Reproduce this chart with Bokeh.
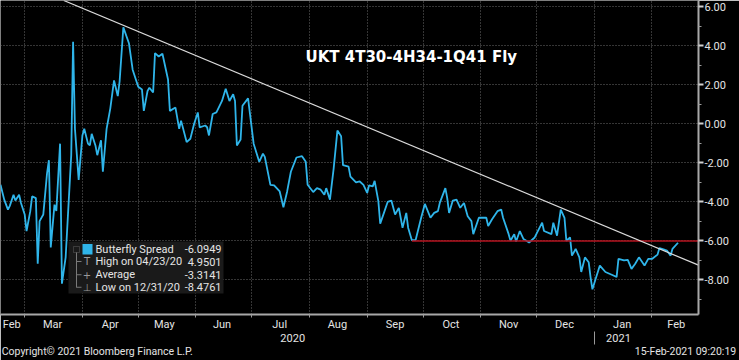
import pandas as pd
from bokeh.plotting import figure
from bokeh.models import (Range1d, FixedTicker, DatetimeAxis, NumeralTickFormatter,
                          Label, BoxAnnotation, ColumnDataSource)
from bokeh.embed import file_html
from bokeh.resources import INLINE

# ---------------- data ----------------
dates = [
    "2020-02-17", "2020-02-19", "2020-02-21", "2020-02-22", "2020-02-24", "2020-02-25", "2020-02-27", "2020-02-28",
    "2020-03-01", "2020-03-02", "2020-03-04", "2020-03-05", "2020-03-07", "2020-03-08", "2020-03-09", "2020-03-11",
    "2020-03-13", "2020-03-14", "2020-03-15", "2020-03-17", "2020-03-18", "2020-03-20", "2020-03-21", "2020-03-23",
    "2020-03-26", "2020-03-27", "2020-03-28", "2020-03-30", "2020-04-01", "2020-04-02", "2020-04-04", "2020-04-05",
    "2020-04-06", "2020-04-08", "2020-04-09", "2020-04-11", "2020-04-12", "2020-04-14", "2020-04-16", "2020-04-18",
    "2020-04-20", "2020-04-21", "2020-04-23", "2020-04-26", "2020-04-28", "2020-05-01", "2020-05-03", "2020-05-04",
    "2020-05-06", "2020-05-07", "2020-05-09", "2020-05-10", "2020-05-12", "2020-05-14", "2020-05-17", "2020-05-18",
    "2020-05-21", "2020-05-23", "2020-05-24", "2020-05-27", "2020-05-29", "2020-05-31", "2020-06-02", "2020-06-03",
    "2020-06-06", "2020-06-07", "2020-06-08", "2020-06-10", "2020-06-12", "2020-06-15", "2020-06-17", "2020-06-19",
    "2020-06-21", "2020-06-22", "2020-06-23", "2020-06-25", "2020-06-26", "2020-06-29", "2020-07-02", "2020-07-05",
    "2020-07-07", "2020-07-08", "2020-07-11", "2020-07-13", "2020-07-16", "2020-07-18", "2020-07-20", "2020-07-22",
    "2020-07-25", "2020-07-28", "2020-07-30", "2020-07-31", "2020-08-03", "2020-08-05", "2020-08-07", "2020-08-09",
    "2020-08-10", "2020-08-12", "2020-08-14", "2020-08-16", "2020-08-18", "2020-08-19", "2020-08-22", "2020-08-23",
    "2020-08-26", "2020-08-28", "2020-08-30", "2020-09-01", "2020-09-02", "2020-09-04", "2020-09-05", "2020-09-07",
    "2020-09-08", "2020-09-10", "2020-09-12", "2020-09-14", "2020-09-16", "2020-09-18", "2020-09-20", "2020-09-22",
    "2020-09-23", "2020-09-25", "2020-09-27", "2020-09-30", "2020-10-02", "2020-10-05", "2020-10-07", "2020-10-09",
    "2020-10-10", "2020-10-13", "2020-10-14", "2020-10-15", "2020-10-17", "2020-10-19", "2020-10-21", "2020-10-23",
    "2020-10-25", "2020-10-27", "2020-10-28", "2020-10-31", "2020-11-04", "2020-11-05", "2020-11-07", "2020-11-10",
    "2020-11-12", "2020-11-13", "2020-11-16", "2020-11-17", "2020-11-19", "2020-11-20", "2020-11-22", "2020-11-24",
    "2020-11-27", "2020-11-30", "2020-12-04", "2020-12-05", "2020-12-09", "2020-12-10", "2020-12-12", "2020-12-14",
    "2020-12-16", "2020-12-17", "2020-12-19", "2020-12-20", "2020-12-22", "2020-12-24", "2020-12-25", "2020-12-27",
    "2020-12-29", "2020-12-30", "2020-12-31", "2021-01-04", "2021-01-07", "2021-01-11", "2021-01-13", "2021-01-14",
    "2021-01-17", "2021-01-19", "2021-01-21", "2021-01-23", "2021-01-25", "2021-01-28", "2021-01-30", "2021-02-01",
    "2021-02-04", "2021-02-05", "2021-02-08", "2021-02-09", "2021-02-11", "2021-02-12", "2021-02-15",
]
spread = [
    -3.12, -3.88, -4.39, -4.20, -3.63, -3.93, -3.63, -4.05,
    -4.64, -5.49, -4.47, -3.71, -3.80, -7.17, -4.98, -4.64,
    -2.53, -1.86, -6.33, -4.14, -4.46, -1.01, -8.19, -6.84,
    -1.60, 4.22, -0.25, -2.87, -0.59, -0.25, -1.01, -1.10,
    -0.51, -1.10, -1.60, -0.84, -2.45, -0.25, 0.80, 2.23,
    1.43, 2.19, 4.95, 4.14, 2.78, 1.91, 1.77, 0.67,
    1.69, 1.86, 1.61, 3.63, 3.46, 3.60, 2.28, 0.67,
    0.84, -0.25, 0.17, -0.93, -0.76, 0.00, 0.59, -0.17,
    -0.08, -0.17, -0.59, 0.51, 0.59, 1.18, 1.81, 1.18,
    1.52, 1.18, -1.10, -0.80, 0.93, 1.31, -1.01, -1.94,
    -1.52, -1.69, -3.12, -3.15, -3.46, -4.27, -3.46, -2.45,
    -1.72, -1.65, -1.94, -3.12, -3.49, -3.29, -3.37, -3.63,
    -3.29, -3.88, -2.28, -0.34, -0.63, -2.11, -2.19, -2.70,
    -2.99, -2.95, -3.12, -3.54, -3.15, -3.20, -2.92, -3.96,
    -5.11, -4.56, -4.00, -3.93, -4.64, -4.30, -5.32, -4.56,
    -5.32, -5.96, -5.96, -4.81, -4.10, -4.81, -4.56, -4.47,
    -4.05, -3.29, -3.80, -4.56, -3.93, -3.88, -4.30, -4.05,
    -4.73, -4.98, -5.65, -4.81, -4.81, -5.23, -4.90, -4.47,
    -4.39, -4.81, -5.65, -5.99, -5.65, -6.03, -5.49, -5.90,
    -6.08, -5.82, -5.06, -5.49, -5.65, -5.06, -5.73, -4.39,
    -4.81, -5.99, -5.82, -6.75, -6.41, -6.84, -7.59, -6.84,
    -7.09, -7.85, -8.48, -7.26, -7.59, -7.76, -7.85, -6.92,
    -7.00, -6.97, -7.43, -7.17, -6.84, -7.26, -6.92, -6.92,
    -6.70, -6.36, -6.46, -6.49, -6.75, -6.41, -6.09,
]

trend_dates = ["2020-03-22", "2021-02-26"]
trend_values = [6.33, -7.24]
support_dates = ["2020-09-25", "2021-02-26"]
support_values = [-6.00, -6.00]

month_starts = ["2020-03-01", "2020-04-01", "2020-05-01", "2020-06-01", "2020-07-01", "2020-08-01",
                "2020-09-01", "2020-10-01", "2020-11-01", "2020-12-01", "2021-01-01", "2021-02-01"]
month_label_dates = ["2020-02-23", "2020-03-16", "2020-04-16", "2020-05-15", "2020-06-15", "2020-07-16",
                     "2020-08-16", "2020-09-16", "2020-10-16", "2020-11-16", "2020-12-16", "2021-01-16", "2021-02-14"]
month_labels = ["Feb", "Mar", "Apr", "May", "Jun", "Jul", "Aug", "Sep", "Oct", "Nov", "Dec", "Jan", "Feb"]
year_label_dates = ["2020-07-23", "2021-01-14"]
year_labels = ["2020", "2021"]
year_break = ["2021-01-01"]

y_ticks = [-8, -6, -4, -2, 0, 2, 4, 6]
y_minor = [-9, -7, -5, -3, -1, 1, 3, 5]

title_text = "UKT 4T30-4H34-1Q41 Fly"
legend_names = ["Butterfly Spread", "High on 04/23/20", "Average", "Low on 12/31/20"]
legend_values = ["-6.0949", "4.9501", "-3.3141", "-8.4761"]
legend_icons = ["", "T", "+", "\u22a5"]
footer_dates = ["2020-04-09", "2021-02-19"]
footer_texts = ["Copyright\u00a9 2021 Bloomberg Finance L.P.", "15-Feb-2021 09:20:19"]


def ms(s):
    return float(pd.Timestamp(s).value // 10**6)


FONT = "Roboto"
LINE_C = "#2fb5ea"
TXT_C = "#e4e4e4"
GREY = "#9a9a9a"

p = figure(width=739, height=360, x_axis_type="datetime", y_axis_location="right",
           x_range=Range1d(ms("2020-02-17"), ms("2021-02-26")),
           y_range=Range1d(-9.77, 6.33),
           output_backend="svg", toolbar_location=None,
           background_fill_color="black", border_fill_color="black",
           outline_line_color=None,
           min_border_left=0, min_border_top=0, min_border_right=41, min_border_bottom=42)

# grids
p.xgrid.ticker = FixedTicker(ticks=[ms(d) for d in month_starts])
p.ygrid.ticker = FixedTicker(ticks=y_ticks)
for g in (p.xgrid[0], p.ygrid[0]):
    g.grid_line_color = "#6a6a6a"
    g.grid_line_dash = "1 2"
    g.grid_line_width = 1


def style_axis(ax, size="11px"):
    ax.axis_label_standoff = 0
    ax.major_label_text_color = TXT_C
    ax.major_label_text_font = FONT
    ax.major_label_text_font_size = size
    ax.major_label_standoff = 0
    ax.major_tick_out = 0
    ax.major_tick_in = 0
    ax.minor_tick_out = 0
    ax.minor_tick_in = 0


# month axis
xa = p.xaxis[0]
xa.ticker = FixedTicker(ticks=[ms(d) for d in month_label_dates],
                        minor_ticks=[ms(d) for d in month_starts])
xa.major_label_overrides = {ms(d): t for d, t in zip(month_label_dates, month_labels)}
style_axis(xa)
xa.minor_tick_out = 3
xa.minor_tick_line_color = GREY
xa.axis_line_color = "#a8a8a8"
xa.axis_line_width = 2

# year axis
ya2 = DatetimeAxis(ticker=FixedTicker(ticks=[ms(d) for d in year_label_dates]))
ya2.major_label_overrides = {ms(d): t for d, t in zip(year_label_dates, year_labels)}
style_axis(ya2)
ya2.axis_line_color = None
p.add_layout(ya2, "below")

# footer axis (copyright / timestamp); its minor tick is the year separator
fa = DatetimeAxis(ticker=FixedTicker(ticks=[ms(d) for d in footer_dates],
                                     minor_ticks=[ms(d) for d in year_break]))
fa.major_label_overrides = {ms(d): t for d, t in zip(footer_dates, footer_texts)}
style_axis(fa, "10.5px")
fa.axis_line_color = None
fa.minor_tick_in = 13
fa.minor_tick_line_color = GREY
p.add_layout(fa, "below")

# y axis
yax = p.yaxis[0]
yax.ticker = FixedTicker(ticks=y_ticks, minor_ticks=y_minor)
yax.formatter = NumeralTickFormatter(format="0.00")
style_axis(yax)
yax.axis_line_color = "#a8a8a8"
yax.axis_line_width = 2
yax.major_tick_out = 5
yax.major_tick_line_width = 2
yax.major_tick_line_color = "#d0d0d0"
yax.minor_tick_out = 3
yax.minor_tick_line_color = GREY
yax.major_label_standoff = 1

# series
src = ColumnDataSource(dict(x=pd.to_datetime(dates), y=spread))
p.line("x", "y", source=src, line_color=LINE_C, line_width=1.8)
p.line(pd.to_datetime(support_dates), support_values, line_color="#b5121e", line_width=1.6)
p.line(pd.to_datetime(trend_dates), trend_values, line_color="#dcdcdc", line_width=1.2)

# title
p.add_layout(Label(x=305, y=258, x_units="screen", y_units="screen", text=title_text,
                   text_font="DejaVu Sans", text_font_style="bold", text_font_size="15px",
                   text_color="white", text_baseline="middle"))


# legend box
def sbox(**kw):
    return BoxAnnotation(left_units="screen", right_units="screen",
                         top_units="screen", bottom_units="screen", level="overlay", **kw)


p.add_layout(sbox(left=68, right=223, bottom=21, top=73,
                  fill_color="#1a1a1a", fill_alpha=1.0, line_color=None))
rows_y = [65.3, 53.0, 39.7, 27.3]
p.add_layout(sbox(left=82, right=92, bottom=60, top=70.5,
                  fill_color=LINE_C, fill_alpha=1.0, line_color=None))
p.add_layout(sbox(left=73, right=79, bottom=62, top=68,
                  fill_alpha=0, line_color="#8a8a8a", line_width=1))
p.add_layout(sbox(left=75.5, right=76.5, bottom=27, top=62,
                  fill_color="#7a7a7a", fill_alpha=1.0, line_color=None))
for yy in rows_y[1:]:
    p.add_layout(sbox(left=76, right=81, bottom=yy - 0.5, top=yy + 0.5,
                      fill_color="#7a7a7a", fill_alpha=1.0, line_color=None))
for name, val, icon, yy in zip(legend_names, legend_values, legend_icons, rows_y):
    p.add_layout(Label(x=95, y=yy, x_units="screen", y_units="screen", text=name,
                       text_font=FONT, text_font_size="11px", text_color=TXT_C,
                       text_baseline="middle", level="overlay"))
    p.add_layout(Label(x=221, y=yy, x_units="screen", y_units="screen", text=val,
                       text_font=FONT, text_font_size="11px", text_color=TXT_C,
                       text_baseline="middle", text_align="right", level="overlay"))
    if icon:
        p.add_layout(Label(x=86.5, y=yy, x_units="screen", y_units="screen", text=icon,
                           text_font="DejaVu Sans", text_font_size="10px", text_color=GREY,
                           text_baseline="middle", text_align="center", level="overlay"))

open("out.html", "w").write(file_html(p, INLINE))
